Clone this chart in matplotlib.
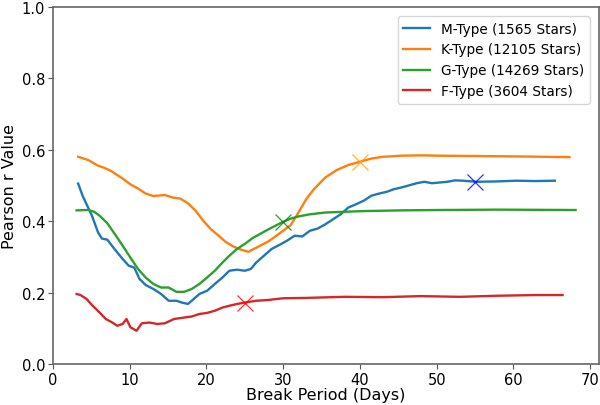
import numpy as np
import matplotlib.pyplot as plt

# Pearson r against break period for each spectral type
m_period = [3.3, 3.9, 5.1, 5.9, 6.4, 7.1, 8.1, 9.1, 9.9, 10.6, 11.3, 12.1, 13.1, 14.1, 15.1,
            16.1, 16.8, 17.6, 18.1, 19.1, 20.1, 21.1, 22.1, 23.0, 24.0, 25.0, 25.8, 26.5,
            27.5, 28.5, 29.5, 30.5, 31.5, 32.5, 33.5, 34.5, 35.5, 36.5, 37.5, 38.5, 39.5,
            40.5, 41.5, 42.5, 43.5, 44.4, 45.4, 46.4, 47.4, 48.4, 49.4, 50.4, 51.4, 52.4,
            53.4, 55.2, 57.9, 60.4, 62.9, 65.4]
m_r = [0.505, 0.47, 0.415, 0.368, 0.351, 0.348, 0.32, 0.294, 0.275, 0.27, 0.238, 0.221,
       0.21, 0.196, 0.177, 0.177, 0.172, 0.168, 0.177, 0.196, 0.205, 0.224, 0.242, 0.261,
       0.264, 0.261, 0.266, 0.284, 0.303, 0.322, 0.333, 0.345, 0.359, 0.357, 0.373, 0.379,
       0.391, 0.405, 0.419, 0.438, 0.447, 0.457, 0.471, 0.477, 0.482, 0.489, 0.494, 0.5,
       0.506, 0.51, 0.506, 0.508, 0.51, 0.514, 0.513, 0.51, 0.511, 0.513, 0.512, 0.513]

k_period = [3.3, 4.6, 5.9, 6.6, 7.6, 9.1, 10.1, 11.1, 12.1, 13.1, 14.6, 15.6, 16.6, 17.6,
            18.6, 19.6, 20.6, 21.6, 22.5, 23.5, 24.5, 25.5, 26.0, 27.0, 28.0, 29.0, 30.0,
            31.0, 32.0, 33.0, 34.0, 35.5, 37.0, 38.5, 40.0, 41.5, 43.0, 45.4, 47.9, 50.4,
            55.4, 60.4, 67.3]
k_r = [0.58, 0.571, 0.555, 0.55, 0.54, 0.519, 0.503, 0.491, 0.477, 0.47, 0.473, 0.466,
       0.463, 0.45, 0.429, 0.401, 0.377, 0.359, 0.342, 0.329, 0.32, 0.314, 0.32, 0.331,
       0.342, 0.357, 0.373, 0.389, 0.424, 0.461, 0.489, 0.522, 0.543, 0.557, 0.566, 0.575,
       0.58, 0.583, 0.584, 0.583, 0.582, 0.581, 0.579]

g_period = [3.1, 4.6, 5.4, 6.1, 7.1, 8.1, 9.1, 10.1, 11.1, 12.1, 13.1, 14.1, 15.1, 16.1,
            17.1, 18.1, 19.1, 20.1, 21.1, 22.1, 23.0, 24.0, 25.0, 26.0, 27.0, 28.0, 29.0,
            30.0, 31.0, 32.0, 33.5, 35.5, 38.0, 40.5, 45.4, 50.4, 57.9, 68.1]
g_r = [0.43, 0.431, 0.426, 0.415, 0.394, 0.363, 0.331, 0.298, 0.266, 0.242, 0.224, 0.214,
       0.214, 0.202, 0.202, 0.21, 0.224, 0.242, 0.261, 0.284, 0.303, 0.322, 0.336, 0.352,
       0.364, 0.376, 0.387, 0.398, 0.407, 0.413, 0.419, 0.424, 0.426, 0.428, 0.43, 0.431,
       0.432, 0.431]

f_period = [3.1, 3.6, 4.4, 5.1, 6.1, 6.9, 7.6, 8.4, 9.1, 9.6, 10.1, 10.9, 11.6, 12.6, 13.6,
            14.6, 15.8, 17.1, 18.1, 19.1, 20.1, 21.1, 22.1, 23.0, 24.0, 25.0, 26.5, 28.0,
            30.0, 33.0, 38.0, 43.0, 47.9, 53.0, 57.9, 62.9, 66.4]
f_r = [0.196, 0.193, 0.182, 0.165, 0.144, 0.126, 0.118, 0.107, 0.112, 0.126, 0.103, 0.093,
       0.114, 0.116, 0.112, 0.114, 0.126, 0.13, 0.133, 0.14, 0.143, 0.149, 0.158, 0.163,
       0.168, 0.172, 0.177, 0.179, 0.184, 0.185, 0.188, 0.187, 0.19, 0.188, 0.191, 0.193,
       0.193]

labels = ["M-Type (1565 Stars)", "K-Type (12105 Stars)",
          "G-Type (14269 Stars)", "F-Type (3604 Stars)"]

# chosen break period for each type
break_x = [55, 40, 30, 25]
break_y = [0.51, 0.566, 0.398, 0.172]
break_colors = ["blue", "orange", "green", "red"]

fig, ax = plt.subplots(figsize=(6, 4.06), dpi=100)
fig.subplots_adjust(left=0.088, right=0.999, top=0.981, bottom=0.101)

series = [(m_period, m_r), (k_period, k_r), (g_period, g_r), (f_period, f_r)]
for (x, y), lab in zip(series, labels):
    ax.plot(x, y, lw=1.7, label=lab)

for bx, by, c in zip(break_x, break_y, break_colors):
    ax.plot(bx, by, "x", color=c, ms=11, mew=0.9, alpha=0.8)

ax.set_xlim(0, 71.2)
ax.set_ylim(0, 1.0)
ax.set_xlabel("Break Period (Days)", fontsize=11.5, labelpad=0)
ax.set_ylabel("Pearson r Value", fontsize=11.5, labelpad=3)
ax.tick_params(labelsize=10.5, color="#555555", length=3.5, pad=2)
for s in ax.spines.values():
    s.set_color("#666666")
    s.set_linewidth(1.2)

ax.legend(loc="upper right", fontsize=9.8, borderaxespad=0.7)

plt.savefig("out.png", dpi=100)
